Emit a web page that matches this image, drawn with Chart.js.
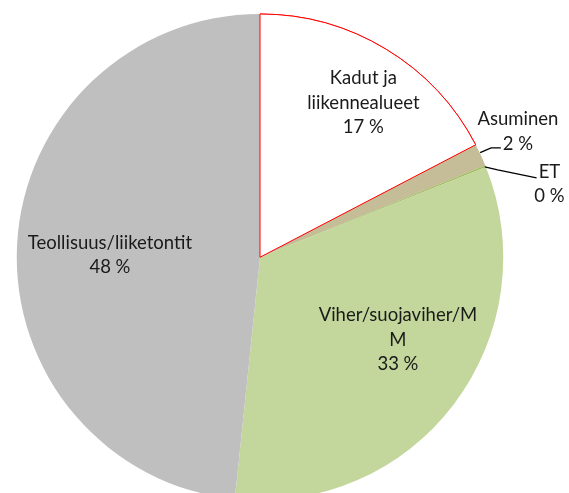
<!DOCTYPE html>
<html>
<head>
<meta charset="utf-8">
<script src="https://cdn.jsdelivr.net/npm/chart.js@4"></script>
<style>
  html, body { margin: 0; padding: 0; background: #fff; overflow: hidden; }
  #wrap { position: relative; width: 569px; height: 510px; }
</style>
</head>
<body>
<div id="wrap"><canvas id="landUseChart"></canvas></div>
<script>
// Maankäyttö, osuudet pinta-alasta
const categories = ['Kadut ja liikennealueet', 'Asuminen', 'ET', 'Viher/suojaviher/M', 'Teollisuus/liiketontit'];
const shares = [17.35, 1.5, 0.1, 32.7, 48.35];
const percentLabels = ['17 %', '2 %', '0 %', '33 %', '48 %'];
const labelLines = [['Kadut ja', 'liikennealueet'], ['Asuminen'], ['ET'], ['Viher/suojaviher/M', 'M'], ['Teollisuus/liiketontit']];
const sliceColors = ['#FFFFFF', '#C4BD97', '#9BBB59', '#C3D69B', '#BFBFBF'];

// label block centres relative to pie centre, in units of radius
const labelPos = [
  { fx: 0.425, fy: -0.635, leader: null },
  { fx: 1.06, fy: -0.517, leader: [[0.905, -0.43], [0.95, -0.45], [0.99, -0.45]] },
  { fx: 1.19, fy: -0.30, leader: [[0.924, -0.372], [0.977, -0.359], [1.137, -0.326]] },
  { fx: 0.567, fy: 0.339, leader: null },
  { fx: -0.617, fy: -0.01, leader: null }
];

const FONT = '18.5px Lato, "Open Sans", sans-serif';
const LINE_H = 24.5;

// redraw the white slice on top so its red outline is not half covered
const outlineOnTop = {
  id: 'outlineOnTop',
  afterDatasetsDraw(chart) {
    const arc = chart.getDatasetMeta(0).data[0];
    arc.draw(chart.ctx);
  }
};

const pieLabels = {
  id: 'pieLabels',
  afterDraw(chart) {
    const ctx = chart.ctx;
    const arc0 = chart.getDatasetMeta(0).data[0];
    const cx = arc0.x, cy = arc0.y, r = arc0.outerRadius;
    ctx.save();
    ctx.font = FONT;
    ctx.fillStyle = '#1a1a1a';
    ctx.textAlign = 'center';
    ctx.textBaseline = 'middle';
    labelPos.forEach((p, i) => {
      const lines = labelLines[i].concat([percentLabels[i]]);
      const x = cx + p.fx * r;
      const y0 = cy + p.fy * r - (lines.length - 1) * LINE_H / 2;
      lines.forEach((t, k) => ctx.fillText(t, x, y0 + k * LINE_H));
      if (p.leader) {
        ctx.beginPath();
        ctx.strokeStyle = '#000';
        ctx.lineWidth = 1.3;
        p.leader.forEach((pt, k) => {
          const lx = cx + pt[0] * r, ly = cy + pt[1] * r;
          if (k === 0) ctx.moveTo(lx, ly); else ctx.lineTo(lx, ly);
        });
        ctx.stroke();
      }
    });
    ctx.restore();
  }
};

const ctx = document.getElementById('landUseChart').getContext('2d');
new Chart(ctx, {
  type: 'pie',
  data: {
    labels: categories,
    datasets: [{
      data: shares,
      backgroundColor: sliceColors,
      borderColor: ['#FF0000', 'rgba(0,0,0,0)', 'rgba(0,0,0,0)', 'rgba(0,0,0,0)', 'rgba(0,0,0,0)'],
      borderWidth: [1, 0, 0, 0, 0]
    }]
  },
  options: {
    responsive: true,
    maintainAspectRatio: false,
    animation: false,
    layout: { padding: { left: 16, right: 65, top: 13.5, bottom: 9 } },
    plugins: {
      legend: { display: false },
      tooltip: { enabled: false }
    }
  },
  plugins: [outlineOnTop, pieLabels]
});
</script>
</body>
</html>
